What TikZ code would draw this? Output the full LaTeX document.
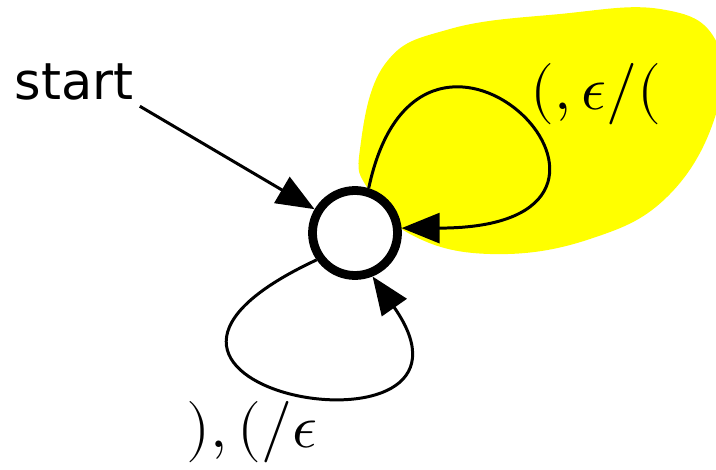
\documentclass[tikz,border=0pt]{standalone}
\usepackage{fontspec}
\usepackage{unicode-math}
\newfontfamily\startfont{DejaVu Sans}
\usepackage{tikz}
\usetikzlibrary{arrows.meta, positioning}
\definecolor{blobyellow}{RGB}{255,255,0}

\begin{document}
\begin{tikzpicture}[
    >={Triangle[length=7.6mm,width=6mm]},
    line width=1.7pt,
    state/.style={draw, circle, fill=white, line width=5pt,
                  minimum size=1.7cm, inner sep=0pt},
    lbl/.style={font=\fontsize{35}{40}\selectfont, inner sep=0pt},
]
    \useasboundingbox (0,0) rectangle (14.32,9.38);

    % highlighted region
    \fill[blobyellow] plot[smooth cycle, tension=0.7] coordinates {
        (7.2,6.4) (7.7,8.1) (9.0,8.8) (11.2,9.1) (13.2,9.2) (14.3,8.6)
        (14.35,7.2) (13.4,5.5) (11.8,4.6) (9.8,4.3) (8.2,4.7) (7.36,5.6)};

    % state and start text
    \node[state] (q0) at (7.10,4.72) {};
    \node[font=\startfont\fontsize{29}{34}\selectfont, inner sep=0.1cm]
        (start) at (1.48,7.75) {start};

    % transitions
    \draw[->] (start.south east) -- (q0);
    \draw[->] (q0.73) .. controls +(78:5.1) and +(6.0,0) .. (q0.6);
    \draw[->] (q0.215) .. controls +(205:6.2) and +(-55:4.8) .. (q0.-68);

    % labels
    \node[lbl] (push) at (11.92,7.50) {$(,\epsilon/($};
    \node[lbl] (pop)  at (5.04,0.74)  {$),(/\epsilon$};
\end{tikzpicture}
\end{document}
